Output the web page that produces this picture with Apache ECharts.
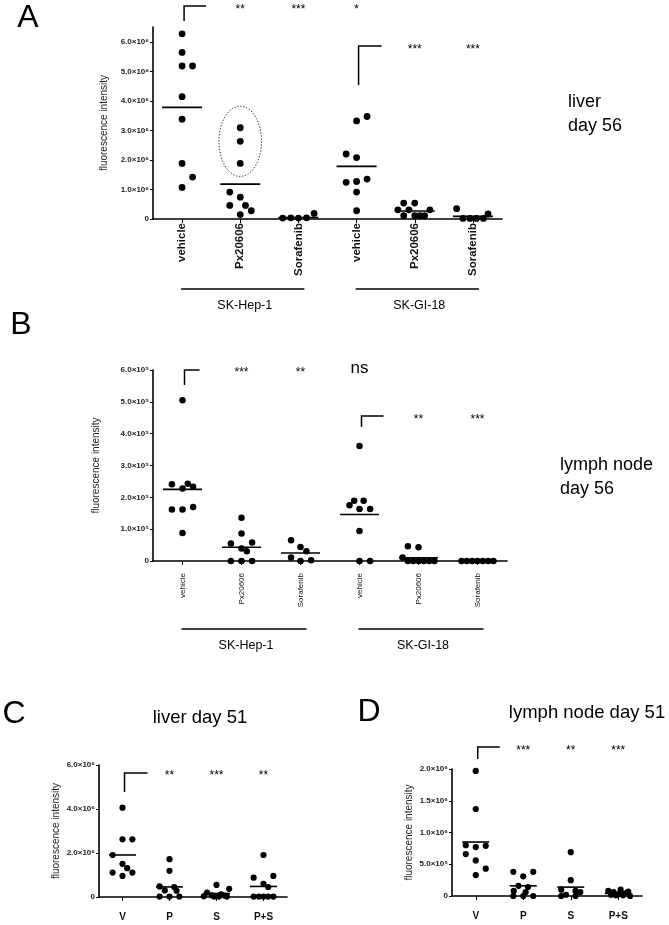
<!DOCTYPE html>
<html><head><meta charset="utf-8">
<script src="https://cdn.jsdelivr.net/npm/echarts@6/dist/echarts.min.js"></script>
<style>html,body{margin:0;padding:0;background:#fff}#c{width:669px;height:925px}</style>
</head><body><div id="c"></div>
<script>
// ================= DATA =================
const catsAB = ['vehicle', 'Px20606', 'Sorafenib', 'vehicle', 'Px20606', 'Sorafenib'];
const catsCD = ['V', 'P', 'S', 'P+S'];
const groupLabels = ['SK-Hep-1', 'SK-GI-18'];

// Panel A: liver day 56 (units of 10^6)
const A_hep_vehicle = [6.27, 5.64, 5.18, 5.18, 4.14, 3.38, 1.88, 1.42, 1.07];
const A_hep_px      = [3.09, 2.63, 1.88, 0.91, 0.74, 0.46, 0.46, 0.28, 0.15];
const A_hep_sor     = [0.03, 0.04, 0.03, 0.04, 0.19];
const A_gi_vehicle  = [3.47, 3.32, 2.20, 2.08, 1.35, 1.27, 1.24, 0.91, 0.28];
const A_gi_px       = [0.54, 0.54, 0.31, 0.31, 0.31, 0.11, 0.11, 0.11, 0.11];
const A_gi_sor      = [0.35, 0.02, 0.02, 0.02, 0.02, 0.17];
const A_means       = [3.78, 1.18, 0.05, 1.78, 0.27, 0.09];

// Panel B: lymph node day 56 (units of 10^5)
const B_hep_vehicle = [5.05, 2.43, 2.41, 2.33, 2.28, 1.70, 1.62, 1.62, 0.88];
const B_hep_px      = [1.36, 0.86, 0.58, 0.55, 0.39, 0.31, 0, 0, 0];
const B_hep_sor     = [0.65, 0.44, 0.31, 0.11, 0, 0.02];
const B_gi_vehicle  = [3.61, 1.89, 1.89, 1.75, 1.63, 1.63, 0.94, 0, 0];
const B_gi_px       = [0.46, 0.43, 0.11, 0, 0, 0, 0, 0, 0];
const B_gi_sor      = [0, 0, 0, 0, 0, 0, 0];
const B_means       = [2.25, 0.43, 0.25, 1.46, 0.10, 0.0];

// Panel C: liver day 51 (units of 10^6)
const C_V  = [4.06, 2.62, 2.62, 1.91, 1.51, 1.31, 1.11, 1.11, 0.96];
const C_P  = [1.72, 1.19, 0.48, 0.45, 0.30, 0.28, 0.02, 0.02, 0.02];
const C_S  = [0.55, 0.37, 0.20, 0.12, 0.08, 0.06, 0.03, 0.02, 0.02, 0.02];
const C_PS = [1.91, 0.96, 0.88, 0.60, 0.45, 0.02, 0.02, 0.02, 0.02, 0.02];
const C_means = [1.91, 0.46, 0.16, 0.48];

// Panel D: lymph node day 51 (units of 10^6)
const D_V  = [1.97, 1.37, 0.80, 0.79, 0.77, 0.66, 0.56, 0.43, 0.33];
const D_P  = [0.38, 0.38, 0.31, 0.16, 0.14, 0.08, 0.06, 0.0, 0.0, 0.0];
const D_S  = [0.69, 0.25, 0.10, 0.08, 0.06, 0.02, 0.0, 0.0];
const D_PS = [0.10, 0.08, 0.07, 0.06, 0.04, 0.03, 0.02, 0.01, 0.01, 0.0];
const D_means = [0.85, 0.16, 0.14, 0.04];

// Significance labels per category (first category carries the bracket)
const A_sig = ['', '**', '***', '*', '***', '***'];
const B_sig = ['', '***', '**', 'ns', '**', '***'];
const C_sig = ['', '**', '***', '**'];
const D_sig = ['', '***', '**', '***'];

// ================= LAYOUT (horizontal scatter offsets, in category widths) =================
const A_jit = [[0,0,0,0.18,0,0,0,0.18,0],[0,0,0,-0.18,0,-0.18,0.09,0.19,0],[-0.27,-0.13,0,0.14,0.27],
  [0.18,0,-0.18,0,0.18,0,-0.18,0,0],[-0.19,0,-0.29,-0.1,0.26,-0.19,0,0.09,0.17],[-0.28,-0.17,-0.05,0.06,0.18,0.26]];
const B_jit = [[0,0.09,-0.18,0.18,0,0.18,-0.18,0,0],[0,0,0.18,-0.18,0,0.09,-0.18,0,0.18],[-0.16,0,0.1,-0.16,0,0.18],
  [0,-0.09,0.07,-0.17,0,0.18,0,0,0.18],[-0.18,0,-0.27,-0.18,-0.09,0,0.09,0.18,0.27],[-0.27,-0.18,-0.09,0,0.09,0.18,0.27]];
const C_jit = [[0,0,0.21,-0.21,0,0.1,-0.21,0.21,0],[0,0,-0.21,0.1,-0.1,0.15,-0.21,0,0.21],
  [0,0.27,-0.2,0.1,-0.1,0.18,-0.27,-0.05,0.05,0.22],[0,0.21,-0.21,0,0.1,-0.21,-0.1,0,0.1,0.21]];
const D_jit = [[0,0,-0.21,0.21,0,-0.21,0,0.21,0],[-0.21,0.21,0,-0.1,0.1,-0.2,0.05,-0.21,0,0.21],
  [0,0,-0.2,0.1,0.2,-0.1,-0.2,0.1],[0.05,-0.21,0.21,-0.1,0.15,0,-0.15,0.1,-0.05,0.25]];

const FONT = '"Liberation Sans", Arial, Helvetica, sans-serif';
const SUP = {'0':'⁰','1':'¹','2':'²','3':'³','4':'⁴','5':'⁵','6':'⁶','7':'⁷','8':'⁸','9':'⁹','-':'⁻'};
function sci(v) {
  if (Math.abs(v) < 1e-12) return '0';
  const e = Math.floor(Math.log10(v) + 1e-9);
  const m = v / Math.pow(10, e);
  return m.toFixed(1) + '×10' + String(e).split('').map(c => SUP[c]).join('');
}

const panels = [
  { groups: [A_hep_vehicle, A_hep_px, A_hep_sor, A_gi_vehicle, A_gi_px, A_gi_sor], jit: A_jit, means: A_means,
    cats: catsAB, unit: 1e6, max: 6.5, interval: 1, dot: 6.8, meanW: 40,
    grid: {left: 153, top: 27, width: 349, height: 192},
    label: {rotate: 90, fontSize: 11.5, fontWeight: 'bold', margin: 4}, nameGap: 40 },
  { groups: [B_hep_vehicle, B_hep_px, B_hep_sor, B_gi_vehicle, B_gi_px, B_gi_sor], jit: B_jit, means: B_means,
    cats: catsAB, unit: 1e5, max: 6, interval: 1, dot: 6.5, meanW: 39,
    grid: {left: 153, top: 370, width: 354, height: 191},
    label: {rotate: 90, fontSize: 8, fontWeight: 'normal', margin: 12}, nameGap: 52 },
  { groups: [C_V, C_P, C_S, C_PS], jit: C_jit, means: C_means,
    cats: catsCD, unit: 1e6, max: 6, interval: 2, dot: 6.2, meanW: 27,
    grid: {left: 99, top: 765, width: 188, height: 132},
    label: {rotate: 0, fontSize: 10, fontWeight: 'bold', margin: 15}, nameGap: 38 },
  { groups: [D_V, D_P, D_S, D_PS], jit: D_jit, means: D_means,
    cats: catsCD, unit: 1e6, max: 2, interval: 0.5, dot: 6.2, meanW: 27,
    grid: {left: 452, top: 769, width: 190, height: 127},
    label: {rotate: 0, fontSize: 10, fontWeight: 'bold', margin: 15}, nameGap: 38 }
];

const grid = [], xAxis = [], yAxis = [], series = [];
panels.forEach((p, pi) => {
  grid.push(Object.assign({outerBoundsMode: 'none', containLabel: false}, p.grid));
  const n = p.cats.length;
  xAxis.push({
    type: 'category', gridIndex: pi, data: p.cats, boundaryGap: true,
    axisLine: {show: true, onZero: false, lineStyle: {color: '#000', width: 1.6}},
    axisTick: {show: true, alignWithLabel: true, length: 4, lineStyle: {color: '#000', width: 1}},
    axisLabel: Object.assign({color: '#111', fontFamily: FONT, interval: 0}, p.label),
    splitLine: {show: false}
  });
  xAxis.push({type: 'value', gridIndex: pi, min: -0.5, max: n - 0.5, show: false,
    axisLine: {onZero: false}, splitLine: {show: false}});
  const ticks = [];
  for (let v = 0; v <= p.max + 1e-9; v += p.interval) ticks.push(+v.toFixed(6));
  yAxis.push({
    type: 'value', gridIndex: pi, min: 0, max: p.max, interval: p.interval,
    axisLine: {show: true, onZero: false, lineStyle: {color: '#000', width: 1.6}},
    axisTick: {show: true, length: 3, lineStyle: {color: '#000', width: 1}, customValues: ticks},
    splitLine: {show: false},
    axisLabel: {fontSize: 8, fontWeight: 'bold', color: '#222', fontFamily: FONT, margin: 4, customValues: ticks,
      formatter: v => (Math.abs(v / p.interval - Math.round(v / p.interval)) > 1e-6) ? '' : sci(v * p.unit)},
    name: 'fluorescence intensity', nameLocation: 'middle', nameGap: p.nameGap,
    nameTextStyle: {fontSize: 10, color: '#222', fontFamily: FONT}
  });
  p.groups.forEach((vals, gi) => {
    series.push({
      type: 'scatter', xAxisIndex: 2 * pi + 1, yAxisIndex: pi, clip: false,
      symbol: 'circle', symbolSize: p.dot, itemStyle: {color: '#000', opacity: 1},
      data: vals.map((v, k) => [gi + p.jit[gi][k], v]), z: 3
    });
  });
  series.push({
    type: 'scatter', xAxisIndex: 2 * pi + 1, yAxisIndex: pi, clip: false,
    symbol: 'rect', symbolSize: [p.meanW, 1.6], itemStyle: {color: '#000', opacity: 1},
    data: p.means.map((m, i) => [i, m]), z: 4
  });
});

// dotted ellipse around the upper Px20606 responders in panel A (center & radii in data units)
const ellipseA = {cx: 1, cy: 2.63, rx: 0.366, ry: 1.19};
series.push({
  type: 'custom', xAxisIndex: 1, yAxisIndex: 0, clip: false, z: 5,
  data: [[ellipseA.cx, ellipseA.cy]],
  renderItem: (params, api) => {
    const c = api.coord([api.value(0), api.value(1)]);
    const s = api.size([ellipseA.rx, ellipseA.ry]);
    const pts = [];
    for (let t = 0; t < 90; t++) {
      const a = t / 90 * Math.PI * 2;
      pts.push([c[0] + s[0] * Math.cos(a), c[1] + s[1] * Math.sin(a)]);
    }
    return {type: 'polygon', shape: {points: pts}, style: {fill: null, stroke: '#222', lineWidth: 1, lineDash: [1.3, 1.7]}};
  }
});

const chart = echarts.init(document.getElementById('c'), null, {renderer: 'canvas'});
chart.setOption({animation: false, backgroundColor: '#fff', textStyle: {fontFamily: FONT}, grid, xAxis, yAxis, series});

// ============ annotations (x positioned with the axes' own scales) ============
const g = [];
function text(x, y, t, size, opts) {
  g.push({type: 'text', x, y, z: 10, style: Object.assign({text: t, fontSize: size, fontFamily: FONT, fill: '#000',
    align: 'center', verticalAlign: 'middle', textAlign: 'center', textVerticalAlign: 'middle'}, opts || {})});
}
function line(pts, w) {
  g.push({type: 'polyline', z: 10, shape: {points: pts}, style: {stroke: '#000', lineWidth: w || 1.5, fill: null}});
}
function cx(pi, i) { return chart.convertToPixel({xAxisIndex: 2 * pi + 1}, i); }

function sigRow(pi, sig, from, to, bracketCat, yBot, yTop, bw, yText) {
  const bx = cx(pi, bracketCat) + 2;
  line([[bx, yBot], [bx, yTop], [bx + bw, yTop]], 1.5);
  for (let i = from; i <= to; i++) {
    if (sig[i] === 'ns') text(cx(pi, i), yText - 2, sig[i], 17);
    else text(cx(pi, i), yText + 3, sig[i], 12);
  }
}
sigRow(0, A_sig, 1, 3, 0, 21, 6, 22, 7);
sigRow(0, A_sig, 4, 5, 3, 85, 46, 23, 47);
sigRow(1, B_sig, 1, 3, 0, 385, 370, 15, 370);
sigRow(1, B_sig, 4, 5, 3, 427, 416, 22, 417);
sigRow(2, C_sig, 1, 3, 0, 792, 773, 23, 773);
sigRow(3, D_sig, 1, 3, 0, 759, 747, 22, 748);

function groups(pi, yLine, yText) {
  [[0, 2], [3, 5]].forEach((r, k) => {
    const x1 = cx(pi, r[0]) - 1, x2 = cx(pi, r[1]) + 6;
    line([[x1, yLine], [x2, yLine]], 1.5);
    text((x1 + x2) / 2 + 2, yText, groupLabels[k], 12.5);
  });
}
groups(0, 289, 306);
groups(1, 629, 646);

text(28, 18, 'A', 32);
text(21, 325, 'B', 32);
text(14, 714, 'C', 32);
text(369, 712, 'D', 32);
text(568, 90, 'liver\nday 56', 18, {align: 'left', textAlign: 'left', verticalAlign: 'top', textVerticalAlign: 'top', lineHeight: 24});
text(560, 453, 'lymph node\nday 56', 18, {align: 'left', textAlign: 'left', verticalAlign: 'top', textVerticalAlign: 'top', lineHeight: 24});
text(200, 718, 'liver day 51', 18.5);
text(587, 713, 'lymph node day 51', 18.5);

chart.setOption({graphic: g});
</script>
</body></html>
